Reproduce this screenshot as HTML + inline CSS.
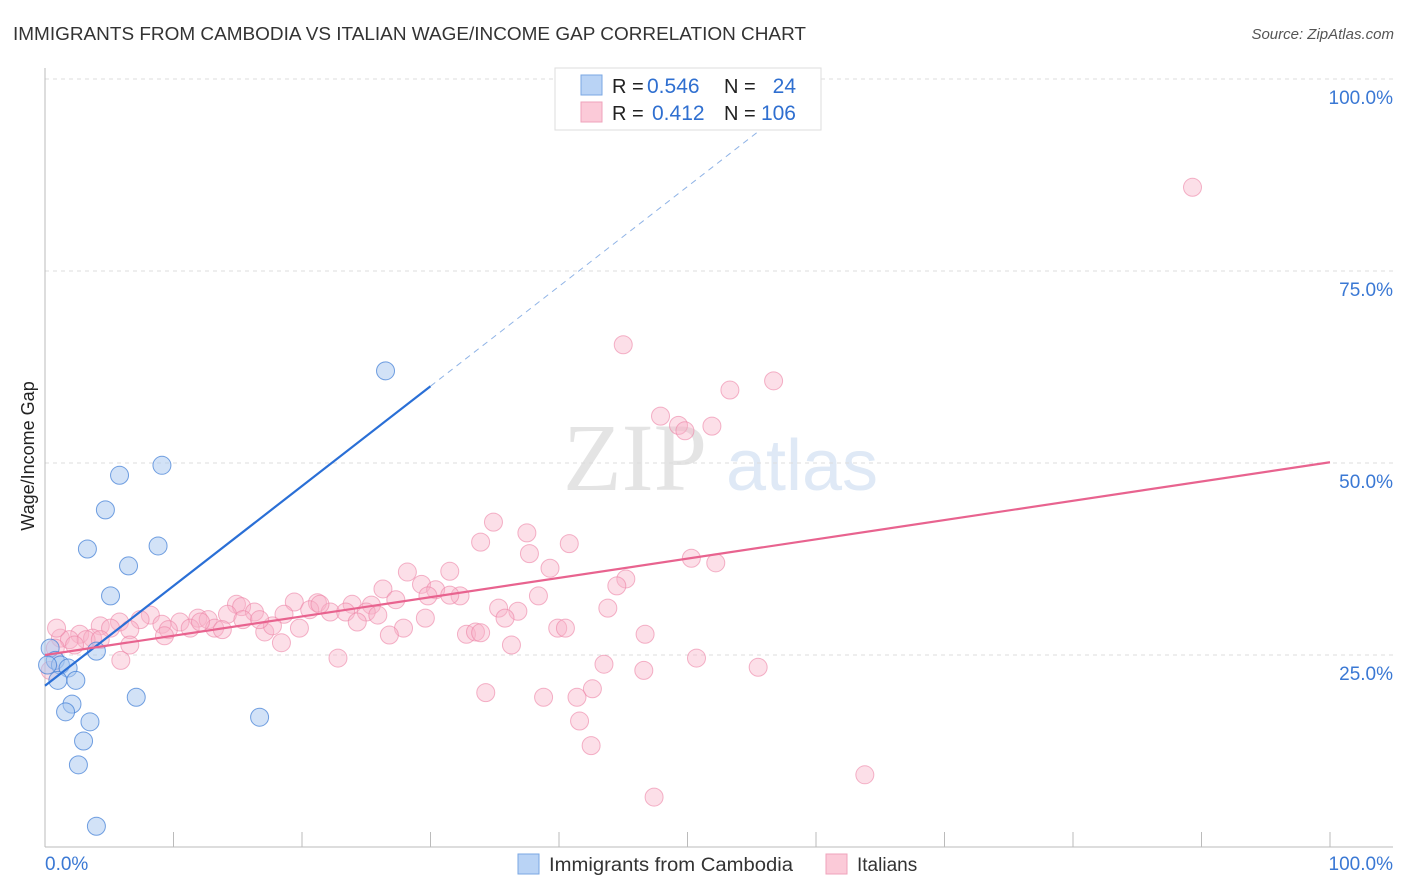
<!DOCTYPE html>
<html><head><meta charset="utf-8"><style>
body{margin:0;background:#fff;font-family:"Liberation Sans",sans-serif;}
svg{display:block}
</style></head><body>
<svg id="chart" width="1406" height="892">
<text x="13" y="40" font-size="18" fill="#333" textLength="793" lengthAdjust="spacingAndGlyphs">IMMIGRANTS FROM CAMBODIA VS ITALIAN WAGE/INCOME GAP CORRELATION CHART</text>
<text x="1394" y="39" font-size="15" fill="#555" text-anchor="end" font-style="italic">Source: ZipAtlas.com</text>
<g>
<text x="635" y="490" font-size="96" fill="#e4e4e4" font-family="Liberation Serif,serif" text-anchor="middle">ZIP</text>
<text x="802" y="490" font-size="72" fill="#dfe9f6" text-anchor="middle">atlas</text>
</g>
<g id="grid"></g>
<g id="axes"></g>
<g id="pts"></g>
<g id="lines"></g>
<text transform="translate(34,456) rotate(-90)" font-size="18" fill="#222" text-anchor="middle">Wage/Income Gap</text>
<g>
<rect x="555" y="68" width="266" height="62" fill="#fff" stroke="#ddd"/>
<rect x="581" y="75" width="21" height="20" fill="#b9d3f5" stroke="#7aa7e3"/>
<rect x="581" y="102" width="21" height="20" fill="#fbcad8" stroke="#efa3bb"/>
<text x="612" y="93" font-size="20" fill="#222">R =</text>
<text x="647" y="93" font-size="21" fill="#2f6fd0">0.546</text>
<text x="724" y="93" font-size="20" fill="#222">N =</text>
<text x="796" y="93" font-size="21" fill="#2f6fd0" text-anchor="end">24</text>
<text x="612" y="120" font-size="20" fill="#222">R =</text>
<text x="652" y="120" font-size="21" fill="#2f6fd0">0.412</text>
<text x="724" y="120" font-size="20" fill="#222">N =</text>
<text x="796" y="120" font-size="21" fill="#2f6fd0" text-anchor="end">106</text>
</g>
<g>
<rect x="518" y="854" width="21" height="20" fill="#b9d3f5" stroke="#7aa7e3"/>
<text x="549" y="871" font-size="19" fill="#333" textLength="244" lengthAdjust="spacingAndGlyphs">Immigrants from Cambodia</text>
<rect x="826" y="854" width="21" height="20" fill="#fbcad8" stroke="#efa3bb"/>
<text x="857" y="871" font-size="19" fill="#333">Italians</text>
</g>
</svg>
<script>
const yTicks=[25,50,75,100];
const yTickLabels=["25.0%","50.0%","75.0%","100.0%"];
const xTickVals=[0,10,20,30,40,50,60,70,80,90,100];
const xEdgeLabels=["0.0%","100.0%"];
const blueX=[26.5,9.1,5.8,4.7,3.3,8.8,6.5,5.1,4.0,7.1,16.7,2.1,1.6,3.5,3.0,2.6,4.0,0.4,0.8,1.2,1.8,2.4,1.0,0.2];
const blueY=[62.0,49.7,48.4,43.9,38.8,39.2,36.6,32.7,25.5,19.5,16.9,18.6,17.6,16.3,13.8,10.7,2.7,25.9,24.3,23.7,23.3,21.7,21.7,23.7];
const pinkX=[89.3,45.0,56.7,53.3,47.9,49.3,49.8,51.9,34.9,37.5,33.9,40.8,37.7,39.3,50.3,52.2,45.2,44.5,28.2,31.5,26.3,29.3,30.4,32.3,38.4,27.3,35.3,36.8,43.8,35.8,23.9,25.4,19.4,21.2,14.9,15.3,8.2,20.6,22.2,23.4,25.0,18.6,16.3,14.2,11.9,12.7,10.5,9.1,7.4,5.8,4.3,2.7,1.2,1.9,3.7,5.1,6.6,9.6,11.3,13.2,13.8,17.1,17.7,19.8,24.3,25.9,27.9,29.6,32.8,33.5,39.9,40.5,46.7,26.8,33.9,9.3,3.2,0.8,0.4,5.9,22.8,36.3,18.4,43.5,50.7,55.5,46.6,42.6,34.3,38.8,41.4,41.6,42.5,63.8,47.4,0.9,2.3,4.3,6.6,12.1,15.4,16.7,21.4,29.8,31.5];
const pinkY=[85.9,65.4,60.7,59.5,56.1,54.9,54.2,54.8,42.3,40.9,39.7,39.5,38.2,36.3,37.6,37.0,34.9,34.0,35.8,35.9,33.6,34.2,33.5,32.7,32.7,32.2,31.1,30.7,31.1,29.8,31.6,31.5,31.9,31.8,31.6,31.3,30.2,30.9,30.6,30.6,30.6,30.3,30.6,30.3,29.8,29.6,29.3,29.0,29.6,29.3,28.8,27.7,27.2,27.0,27.2,28.5,28.3,28.3,28.5,28.5,28.3,28.0,28.8,28.5,29.3,30.2,28.5,29.8,27.7,28.0,28.5,28.5,27.7,27.6,27.9,27.5,27.0,25.9,23.0,24.3,24.6,26.3,26.6,23.8,24.6,23.4,23.0,20.6,20.1,19.5,19.5,16.4,13.2,9.4,6.5,28.5,26.3,27.0,26.3,29.3,29.6,29.6,31.6,32.7,32.8];
const blueFit=[21.0,1.3];
const pinkFit=[25.0,0.251];

const NS="http://www.w3.org/2000/svg";
const X0=45,X1=1330,Y0=847,YPER=7.68;
const sx=v=>X0+(X1-X0)*v/100;
const sy=v=>Y0-v*YPER;
function mk(tag,attrs,parent){const e=document.createElementNS(NS,tag);for(const k in attrs)e.setAttribute(k,attrs[k]);document.getElementById(parent).appendChild(e);return e;}

yTicks.forEach((t,i)=>{
  const l=mk('line',{x1:X0,x2:1393,y1:sy(t),y2:sy(t),stroke:'#ddd','stroke-dasharray':'4,4'},'grid');
  
  
  const tx=mk('text',{x:1393,y:sy(t)+25,'font-size':19,fill:'#3a78d4','text-anchor':'end'},'grid');
  tx.textContent=yTickLabels[i];
  
  
});
const ya=mk('line',{x1:X0,x2:X0,y1:68,y2:Y0,stroke:'#bbb'},'axes');


const xa=mk('line',{x1:X0,x2:1393,y1:Y0,y2:Y0,stroke:'#bbb'},'axes');


xTickVals.forEach(v=>{
  const t=mk('line',{x1:sx(v),x2:sx(v),y1:Y0-15,y2:Y0,stroke:'#bbb'},'axes');
  
  
});
[[0,'start'],[100,'end']].forEach((p,i)=>{
  const t=mk('text',{x:i?1393:45,y:870,'font-size':19,fill:'#3a78d4','text-anchor':p[1]},'axes');
  t.textContent=xEdgeLabels[i];
  
  
});
pinkX.forEach((x,i)=>{
  const c=mk('circle',{cx:sx(x),cy:sy(pinkY[i]),r:9,fill:'rgba(248,178,200,0.42)',stroke:'rgba(236,130,165,0.6)'},'pts');
  
  
});
blueX.forEach((x,i)=>{
  const c=mk('circle',{cx:sx(x),cy:sy(blueY[i]),r:9,fill:'rgba(165,198,240,0.5)',stroke:'rgba(70,130,215,0.75)'},'pts');
  
  
});
const bl=mk('line',{x1:sx(0),y1:sy(blueFit[0]),x2:sx(30),y2:sy(blueFit[0]+blueFit[1]*30),stroke:'#2a6fd6','stroke-width':2.2},'lines');


const bd=mk('line',{x1:sx(30),y1:sy(blueFit[0]+blueFit[1]*30),x2:sx(60.3),y2:sy(blueFit[0]+blueFit[1]*60.3),stroke:'#8fb3e6','stroke-width':1,'stroke-dasharray':'6,5'},'lines');


const pl=mk('line',{x1:sx(0),y1:sy(pinkFit[0]),x2:sx(100),y2:sy(pinkFit[0]+pinkFit[1]*100),stroke:'#e8638f','stroke-width':2.2},'lines');


</script>
</body></html>
